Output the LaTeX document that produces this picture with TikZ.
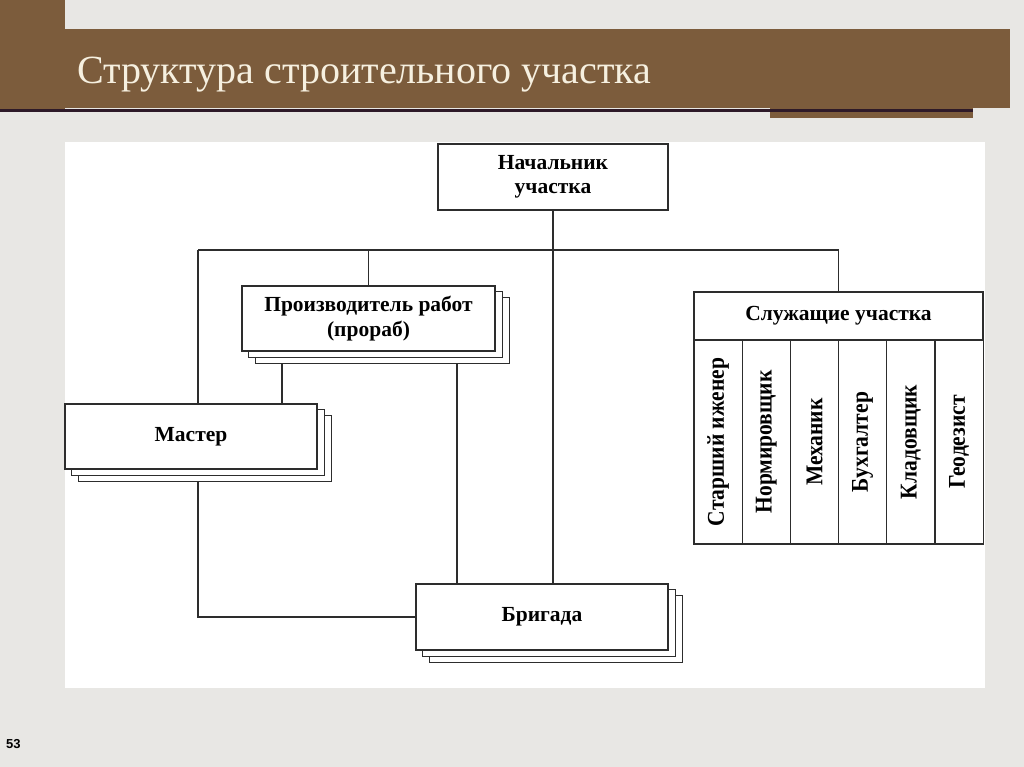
\documentclass[tikz,border=0pt]{standalone}
\usepackage{fontspec}
\setmainfont{Liberation Serif}
\newfontfamily\numfont{Liberation Sans}
\pgfdeclarelayer{bg}
\pgfdeclarelayer{lines}
\pgfdeclarelayer{shad}
\pgfsetlayers{bg,lines,shad,main}
\definecolor{pagebg}{RGB}{232,231,228}
\definecolor{brownbar}{RGB}{124,92,60}
\definecolor{darkline}{RGB}{46,26,40}
\definecolor{titletext}{RGB}{246,240,224}
\definecolor{boxline}{RGB}{45,45,45}
\tikzset{
  box/.style={draw=boxline, fill=white, line width=1.2pt, inner sep=0pt, align=center,
              font=\bfseries\fontsize{21.5}{24.5}\selectfont},
  conn/.style={draw=boxline, line width=1.2pt},
  colbox/.style={box, rotate=90, minimum width=204pt, minimum height=48.2pt},
}
\newcommand\vtext[1]{\scalebox{1}[1.12]{#1}}
\newcommand\stackshadows[1]{%
  \begin{pgfonlayer}{shad}
    \draw[box] ([shift={(14pt,-12pt)}]#1.south west) rectangle ([shift={(14pt,-12pt)}]#1.north east);
    \draw[box] ([shift={(7pt,-6pt)}]#1.south west) rectangle ([shift={(7pt,-6pt)}]#1.north east);
  \end{pgfonlayer}}
\begin{document}
\begin{tikzpicture}[x=1pt,y=-1pt]
\begin{pgfonlayer}{bg}
  \fill[pagebg] (0,0) rectangle (1024,767);
  \fill[brownbar] (0,0) rectangle (65,112);
  \fill[brownbar] (65,29) rectangle (1010,108);
  \fill[brownbar] (770,108) rectangle (973,118);
  \fill[darkline] (0,109.5) rectangle (973,112.5);
  \fill[white] (65,142) rectangle (985,688);
\end{pgfonlayer}
\useasboundingbox (0,0) rectangle (1024,767);

\node[anchor=base west, text=titletext, font=\fontsize{40}{40}\selectfont, inner sep=0pt] (title) at (77,84) {Структура строительного участка};
\node[anchor=base west, font=\numfont\bfseries\fontsize{13}{13}\selectfont, inner sep=0pt] (num) at (6,748) {53};

\node[box, minimum width=230pt, minimum height=66pt] (nach) at (553,177) {Начальник\\участка};
\node[box, minimum width=253pt, minimum height=65pt] (prorab) at (368.5,318.5) {Производитель работ\\(прораб)};
\node[box, minimum width=252pt, minimum height=65pt] (master) at (191,436.5) {Мастер};
\node[box, minimum width=252pt, minimum height=66pt] (brig) at (542,617) {Бригада};
\stackshadows{prorab}
\stackshadows{master}
\stackshadows{brig}

\node[box, minimum width=289pt, minimum height=48pt] (sluzh) at (838.5,316) {Служащие участка};
\node[colbox] (c1) at (718.1,442) {\vtext{Старший иженер}};
\node[colbox] (c2) at (766.3,442) {\vtext{Нормировщик}};
\node[colbox] (c3) at (814.5,442) {\vtext{Механик}};
\node[colbox] (c4) at (862.7,442) {\vtext{Бухгалтер}};
\node[colbox] (c5) at (910.9,442) {\vtext{Кладовщик}};
\node[colbox] (c6) at (959.1,442) {\vtext{Геодезист}};

\coordinate (busL) at (198,250);
\coordinate (busR) at (sluzh.north |- busL);
\coordinate (pL) at ([xshift=-86.5pt]prorab.south);
\coordinate (pR) at ([xshift=88.5pt]prorab.south);
\begin{pgfonlayer}{lines}
  \draw[conn] (busL) -- (busR);
  \draw[conn] (nach.south) -- (nach.south |- brig.north);
  \draw[conn] (busL) -- (busL |- master.north);
  \draw[conn] (prorab.north) -- (prorab.north |- busL);
  \draw[conn] (sluzh.north) -- (busR);
  \draw[conn] (pL) -- (pL |- master.north);
  \draw[conn] (pR) -- (pR |- brig.north);
  \draw[conn] (busL |- master.south) |- (brig.west);
\end{pgfonlayer}
\end{tikzpicture}
\end{document}
